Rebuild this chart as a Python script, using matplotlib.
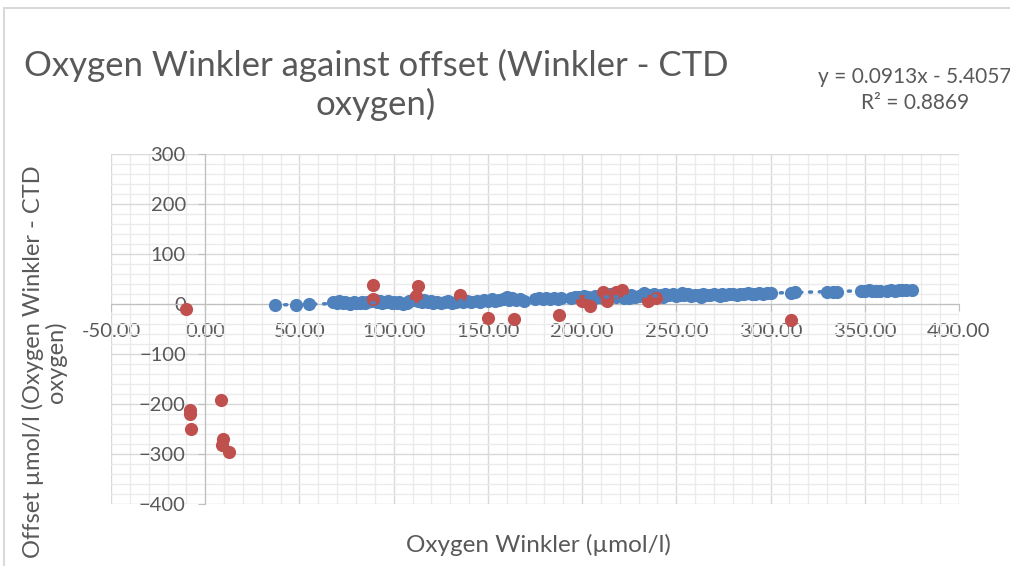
import numpy as np
import matplotlib.pyplot as plt
from matplotlib.ticker import MultipleLocator, FormatStrFormatter
from matplotlib.patches import Rectangle

plt.rcParams['font.family'] = ['Lato', 'DejaVu Sans']

# blue series: Winkler vs offset (good samples)
blue_x = [37, 48, 55,
          68, 70, 71, 73, 74, 76, 77, 79, 80, 82, 83, 85, 86, 88, 90, 91, 93, 94, 96, 97, 99,
          100, 102, 103, 105, 107, 108, 110, 111, 113, 115, 116, 118, 120, 121, 123, 125, 127,
          129, 131, 133, 135, 137, 139, 141,
          144, 146, 148, 150, 152, 154, 156, 158, 160, 161, 163, 165, 167, 169,
          175, 177, 179, 181, 183, 185, 187, 189,
          194, 196, 198, 200, 201, 203, 205, 207, 209, 211, 212, 214, 216, 218, 220, 222, 224,
          226, 228, 230, 232, 234, 236, 238, 240, 242, 244, 246, 248, 250, 252, 254, 256, 258,
          260, 262, 264, 266, 268, 270, 272, 274, 276, 278, 280, 282, 284, 286, 288, 290, 292,
          294, 296, 298, 300,
          311, 313, 330, 333, 335,
          348, 350, 352, 354, 356, 358, 362, 364, 366, 368, 370, 372, 375,
          206, 215, 225, 233, 243, 253, 263, 273]
blue_y = [-2, -2, 0,
          5, 3, 6, 2, 4, 3, 1, 4, 2, 3, 5, 2, 4, 6, 8, 5, 7, 3, 4, 6, 3,
          5, 2, 4, 1, 3, 6, 9, 11, 7, 5, 8, 4, 6, 3, 5, 2, 4,
          6, 3, 5, 7, 4, 6, 5,
          6, 5, 8, 7, 10, 6, 9, 11, 14, 9, 12, 8, 10, 7,
          10, 12, 11, 13, 10, 12, 11, 13,
          13, 15, 14, 12, 16, 14, 13, 17, 15, 12, 16, 14, 18, 15, 17, 13, 16,
          18, 15, 17, 19, 16, 18, 20, 17, 19, 21, 18, 20, 17, 19, 18, 20, 17,
          19, 18, 20, 19, 18, 21, 19, 20, 18, 21, 20, 19, 21, 20, 22, 21, 20,
          22, 21, 23, 22,
          23, 24, 24, 25, 24,
          27, 26, 28, 27, 26, 27, 27, 28, 27, 28, 29, 28, 28,
          10, 21, 12, 22, 14, 23, 15, 16]

# red series: flagged samples
red_x = [-10, 89, 89, 113, 112, 135, 150, 164, 188, 200, 204, 211, 213, 218, 221, 235, 239, 311,
         8.5, -8.3, -8.3, -7.4, 9.4, 8.9, 12.8]
red_y = [-10, 38, 11, 36, 16, 18, -27, -30, -21, 6, -3, 25, 7, 25, 28, 7, 13, -31,
         -191, -211, -219, -249, -269, -282, -295]

slope = 0.0913
intercept = -5.4057
r2 = 0.8869

blue = '#4F81BD'
red = '#C0504D'
txt = '#595959'

fig = plt.figure(figsize=(10.1, 5.66), dpi=100)
fig.patches.append(Rectangle((4 / 1010, -0.1), 1.2, 1.1 - 8 / 566, transform=fig.transFigure,
                             fill=False, edgecolor='#d9d9d9', linewidth=1.5))
ax = fig.add_axes([0.1099, 0.1095, 0.8396, 0.6184])

ax.scatter(blue_x, blue_y, s=90, color=blue, zorder=3, linewidths=0)
ax.scatter(red_x, red_y, s=90, color=red, zorder=4, linewidths=0)

tx = np.array([min(blue_x), max(blue_x)])
ax.plot(tx, slope * tx + intercept, color=blue, linewidth=2.5, linestyle=(0, (0.6, 2.2)),
        dash_capstyle='round', zorder=5)

ax.set_xlim(-50, 400)
ax.set_ylim(-400, 300)
ax.xaxis.set_major_locator(MultipleLocator(50))
ax.xaxis.set_minor_locator(MultipleLocator(10))
ax.yaxis.set_major_locator(MultipleLocator(100))
ax.yaxis.set_minor_locator(MultipleLocator(20))
ax.xaxis.set_major_formatter(FormatStrFormatter('%.2f'))
ax.grid(which='major', color='#d9d9d9', linewidth=1, zorder=0)
ax.grid(which='minor', color='#ebebeb', linewidth=1, zorder=0)
ax.set_axisbelow(True)

for side in ['top', 'right']:
    ax.spines[side].set_visible(False)
ax.spines['left'].set_position(('data', 0))
ax.spines['bottom'].set_position(('data', 0))
ax.spines['left'].set_color('#bfbfbf')
ax.spines['bottom'].set_color('#bfbfbf')
ax.tick_params(which='major', direction='out', length=5, color='#bfbfbf', labelsize=14.5,
               labelcolor=txt)
ax.tick_params(axis='x', pad=9)
ax.tick_params(axis='y', pad=9)
ax.tick_params(which='minor', length=0)

fig.text(376 / 1010, 1 - 85 / 566, 'Oxygen Winkler against offset (Winkler - CTD\noxygen)',
         ha='center', va='center', fontsize=25, color=txt, linespacing=1.2)
eq = f'y = {slope}x - {abs(intercept)}\nR² = {r2}'
fig.text(915 / 1010, 1 - 90 / 566, eq, ha='center', va='center', fontsize=15, color=txt,
         linespacing=1.4)
fig.text(538 / 1010, 1 - 545 / 566, 'Oxygen Winkler (µmol/l)', ha='center', va='center',
         fontsize=17.5, color=txt)
fig.text(44 / 1010, 1 - 362 / 566, 'Offset µmol/l (Oxygen Winkler - CTD\noxygen)', ha='center',
         va='center', rotation=90, fontsize=17, color=txt, linespacing=1.05)

fig.savefig('out.png', dpi=100)
